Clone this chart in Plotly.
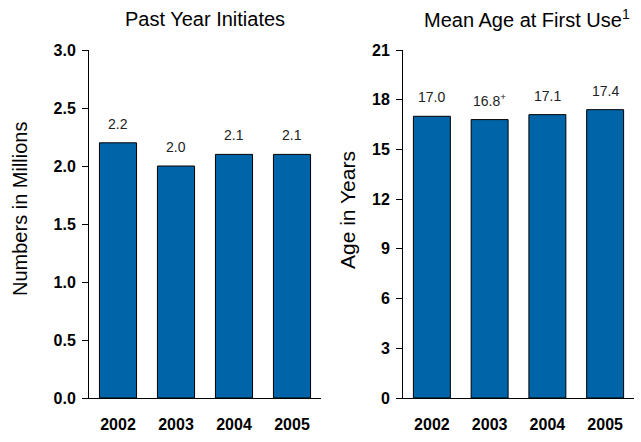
import plotly.graph_objects as go
from plotly.subplots import make_subplots

years = ["2002", "2003", "2004", "2005"]
initiates = [2.2, 2.0, 2.1, 2.1]
initiate_labels = ["2.2", "2.0", "2.1", "2.1"]
mean_age = [17.0, 16.8, 17.1, 17.4]
age_labels = ["17.0", "16.8<sup>+</sup>", "17.1", "17.4"]
left_ticks = [0, 0.5, 1.0, 1.5, 2.0, 2.5, 3.0]
right_ticks = [0, 3, 6, 9, 12, 15, 18, 21]

W, H = 641, 442
BAR = "#0065A8"
FONT = "Liberation Sans, Arial, sans-serif"

fig = make_subplots(rows=1, cols=2)
fig.add_trace(go.Bar(x=years, y=initiates, width=0.64,
                     marker=dict(color=BAR, line=dict(color="black", width=1))), 1, 1)
fig.add_trace(go.Bar(x=years, y=mean_age, width=0.64,
                     marker=dict(color=BAR, line=dict(color="black", width=1))), 1, 2)

yb = 1 - 398 / H
yt = 1 - 50 / H
fig.update_layout(
    width=W, height=H, margin=dict(l=0, r=0, t=0, b=0, autoexpand=False),
    paper_bgcolor="white", plot_bgcolor="white", showlegend=False,
    font=dict(family=FONT, color="black"),
    xaxis=dict(domain=[89 / W, 321 / W]),
    xaxis2=dict(domain=[403 / W, 634 / W]),
    yaxis=dict(domain=[yb, yt]),
    yaxis2=dict(domain=[yb, yt]),
)
fig.update_xaxes(type="category", categoryorder="array", categoryarray=years, range=[-0.5, 3.5],
                 showline=True, linecolor="black", linewidth=1, ticks="", showgrid=False,
                 tickfont=dict(family=FONT, size=16, color="black"), ticklabelstandoff=12,
                 automargin=False, tickangle=0,
                 tickvals=years, ticktext=[f"<b>{y}</b>" for y in years])
fig.update_yaxes(showline=True, linecolor="black", linewidth=1, ticks="outside", ticklen=6,
                 tickcolor="black", showgrid=False, zeroline=False,
                 tickfont=dict(family=FONT, size=16, color="black"), automargin=False,
                 ticklabelstandoff=3)
fig.update_yaxes(range=[0, 3.0], tickvals=left_ticks, ticktext=[f"<b>{v:.1f}</b>" for v in left_ticks], row=1, col=1)
fig.update_yaxes(range=[0, 21], tickvals=right_ticks, ticktext=[f"<b>{v}</b>" for v in right_ticks], row=1, col=2)

ann = []
for i, (v, t) in enumerate(zip(initiates, initiate_labels)):
    ann.append(dict(x=i, y=v, xref="x", yref="y", text=t, showarrow=False, yanchor="bottom",
                    yshift=9, font=dict(family=FONT, size=14, color="#222")))
for i, (v, t) in enumerate(zip(mean_age, age_labels)):
    ann.append(dict(x=i, y=v, xref="x2", yref="y2", text=t, showarrow=False, yanchor="bottom",
                    yshift=9, font=dict(family=FONT, size=14, color="#222")))
ann.append(dict(x=205 / W, y=1 - 19 / H, xref="paper", yref="paper", text="Past Year Initiates",
                xanchor="center", yanchor="middle",
                showarrow=False, font=dict(family=FONT, size=20, color="black")))
ann.append(dict(x=527 / W, y=1 - 19 / H, xref="paper", yref="paper", text="Mean Age at First Use<sup>1</sup>",
                xanchor="center", yanchor="middle",
                showarrow=False, font=dict(family=FONT, size=20, color="black")))
ann.append(dict(x=20 / W, y=1 - 209 / H, xref="paper", yref="paper", text="Numbers in Millions",
                xanchor="center", yanchor="middle",
                textangle=-90, showarrow=False, font=dict(family=FONT, size=20, color="black")))
ann.append(dict(x=347 / W, y=1 - 210 / H, xref="paper", yref="paper", text="Age in Years",
                xanchor="center", yanchor="middle",
                textangle=-90, showarrow=False, font=dict(family=FONT, size=21, color="black")))
fig.update_layout(annotations=ann)

fig.write_html("out.html", config={"displayModeBar": False},
               post_script="document.body.style.margin='0';document.body.style.padding='0';")
